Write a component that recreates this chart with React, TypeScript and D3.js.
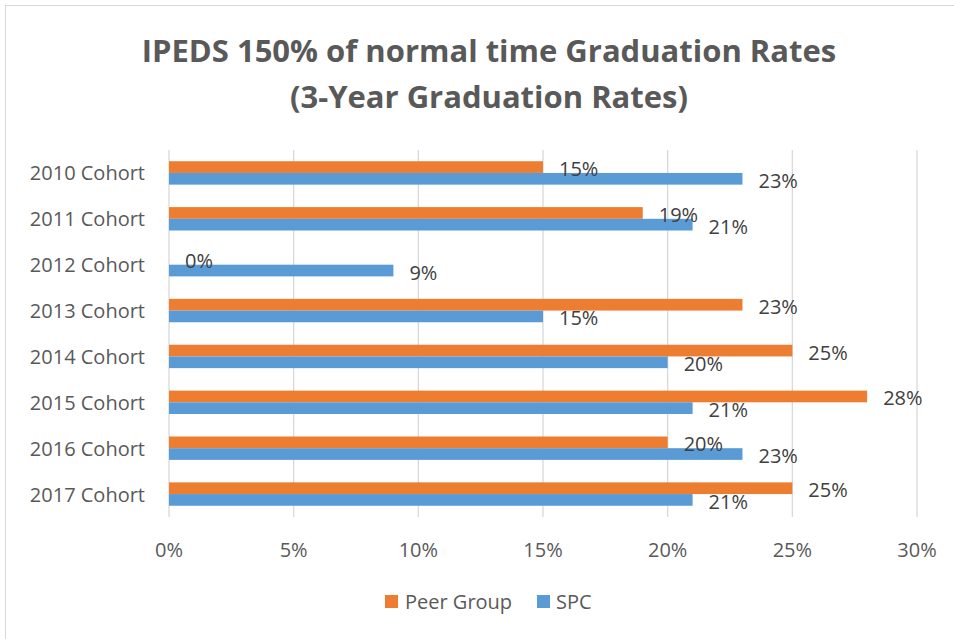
import React from "react";
import * as d3 from "d3";

const cohorts = [
  "2010 Cohort",
  "2011 Cohort",
  "2012 Cohort",
  "2013 Cohort",
  "2014 Cohort",
  "2015 Cohort",
  "2016 Cohort",
  "2017 Cohort",
];
const peerGroup = [0.15, 0.19, 0, 0.23, 0.25, 0.28, 0.2, 0.25];
const spc = [0.23, 0.21, 0.09, 0.15, 0.2, 0.21, 0.23, 0.21];
const seriesNames = ["Peer Group", "SPC"];
const tickValues = [0, 0.05, 0.1, 0.15, 0.2, 0.25, 0.3];

const W = 954;
const H = 639;
const FONT = "'Open Sans', Lato, sans-serif";
const TEXT = "#595959";
const colors = ["#ED7D31", "#5B9BD5"];

const App = () => {
  const x = d3.scaleLinear().domain([0, 0.3]).range([169, 917]);
  const y = d3.scaleBand().domain(cohorts).range([150, 517]).paddingInner(0.49).paddingOuter(0.245);
  const inner = d3.scaleBand().domain(seriesNames).range([0, y.bandwidth()]);
  const fmt = d3.format(".0%");
  const series = [peerGroup, spc];

  // flatten so all labels can sit on top of every bar
  const marks = series.flatMap((vals, si) =>
    vals.map((v, i) => ({ v, si, yy: y(cohorts[i])! + inner(seriesNames[si])! }))
  );

  return (
    <svg width={W} height={H} style={{ position: "absolute", left: 0, top: 0, background: "#fff" }}>
      <rect x={5.5} y={5.5} width={W + 10} height={H + 10} fill="#fff" stroke="#D9D9D9" />
      <text x={489} y={50} textAnchor="middle" dominantBaseline="central"
        fontFamily={FONT} fontWeight="bold" fontSize={31} fill={TEXT}>
        IPEDS 150% of normal time Graduation Rates
      </text>
      <text x={489} y={96} textAnchor="middle" dominantBaseline="central"
        fontFamily={FONT} fontWeight="bold" fontSize={31} fill={TEXT}>
        (3-Year Graduation Rates)
      </text>

      {tickValues.map(t => (
        <g key={t}>
          <line x1={x(t)} x2={x(t)} y1={150} y2={517} stroke="#D9D9D9" strokeWidth={1.3} />
          <text x={x(t)} y={549} textAnchor="middle" dominantBaseline="central"
            fontFamily={FONT} fontSize={20} fill={TEXT}>{fmt(t)}</text>
        </g>
      ))}

      {cohorts.map(c => (
        <text key={c} x={145} y={y(c)! + y.bandwidth() / 2} textAnchor="end" dominantBaseline="central"
          fontFamily={FONT} fontSize={20} fill={TEXT}>{c}</text>
      ))}

      {marks.map((m, k) =>
        m.v > 0 ? (
          <rect key={k} x={x(0)} y={m.yy} width={x(m.v) - x(0)} height={inner.bandwidth()} fill={colors[m.si]} />
        ) : null
      )}
      {marks.map((m, k) => (
        <text key={k} x={x(m.v) + 16} y={m.yy + inner.bandwidth() / 2 + 1.5} dominantBaseline="central"
          fontFamily={FONT} fontSize={20} fill="#404040">{fmt(m.v)}</text>
      ))}

      <rect x={385} y={595} width={13} height={13} fill={colors[0]} />
      <text x={405} y={601} dominantBaseline="central" fontFamily={FONT} fontSize={20} fill={TEXT}>Peer Group</text>
      <rect x={537} y={595} width={13} height={13} fill={colors[1]} />
      <text x={556} y={601} dominantBaseline="central" fontFamily={FONT} fontSize={20} fill={TEXT}>SPC</text>
    </svg>
  );
};

export default App;
